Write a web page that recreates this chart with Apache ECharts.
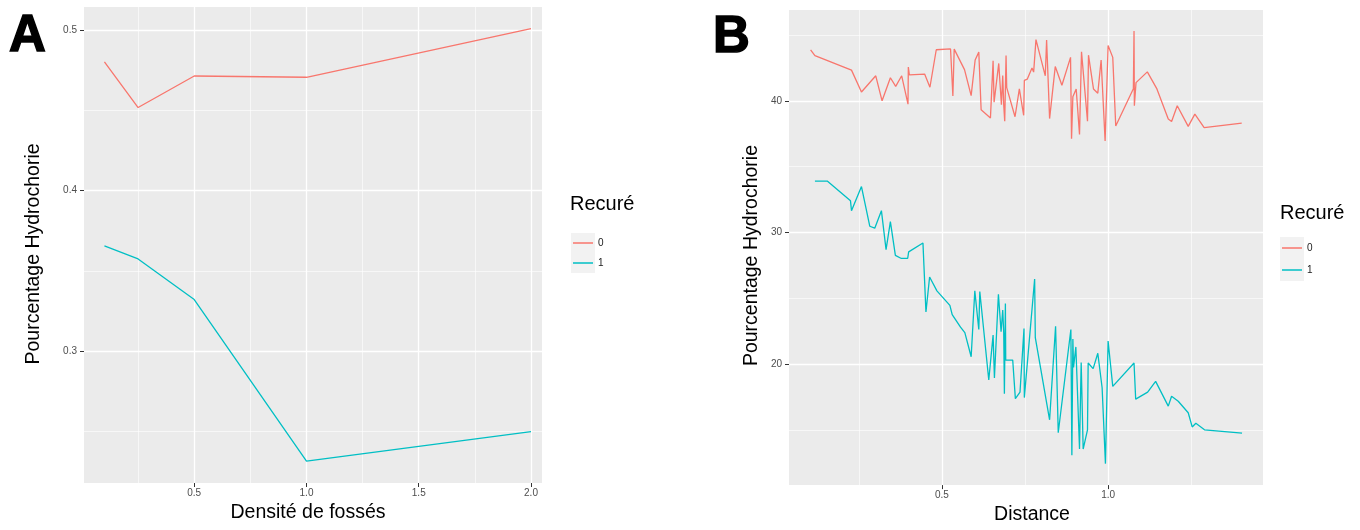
<!DOCTYPE html>
<html>
<head>
<meta charset="utf-8">
<script src="https://cdn.jsdelivr.net/npm/echarts@6/dist/echarts.min.js"></script>
<style>
  html, body { margin: 0; padding: 0; background: #fff; }
  #chart { width: 1360px; height: 530px; }
</style>
</head>
<body>
<div id="chart"></div>
<script>
// Panel A: hydrochory share against ditch density, by dredging status
const densiteFosses = [0.1, 0.25, 0.5, 1.0, 2.0];
const hydroA_recure0 = [0.4805, 0.452, 0.4717, 0.4709, 0.5013];
const hydroA_recure1 = [0.3655, 0.3574, 0.332, 0.2311, 0.2495];

// Panel B: hydrochory percentage against distance, by dredging status
const distance_recure0 = [
  0.105, 0.118, 0.228, 0.258, 0.301, 0.320, 0.345, 0.361, 0.379, 0.398,
  0.399, 0.402, 0.448, 0.464, 0.483, 0.526, 0.533, 0.537, 0.568, 0.588,
  0.600, 0.611, 0.618, 0.646, 0.654, 0.657, 0.671, 0.679, 0.683, 0.686,
  0.689, 0.693, 0.695, 0.720, 0.733, 0.743, 0.746, 0.748, 0.757, 0.771,
  0.776, 0.783, 0.811, 0.815, 0.824, 0.841, 0.861, 0.887, 0.890, 0.894,
  0.904, 0.914, 0.920, 0.938, 0.941, 0.956, 0.969, 0.979, 0.991, 1.000,
  1.014, 1.023, 1.076, 1.078, 1.079, 1.084, 1.118, 1.146, 1.181, 1.191,
  1.208, 1.241, 1.261, 1.289, 1.402
];
const hydroB_recure0 = [
  43.87, 43.43, 42.33, 40.67, 41.90, 40.00, 41.75, 41.10, 41.90, 39.74,
  42.56, 41.97, 42.03, 41.03, 43.88, 43.94, 40.37, 43.93, 42.37, 40.39,
  43.10, 43.70, 39.32, 38.70, 43.04, 39.90, 42.84, 39.70, 41.93, 39.68,
  38.45, 43.45, 41.00, 38.79, 40.90, 39.35, 38.90, 41.55, 41.65, 42.50,
  42.18, 44.65, 41.90, 44.62, 38.65, 42.60, 41.18, 43.30, 37.12, 40.30,
  40.90, 37.45, 43.72, 38.45, 43.47, 40.90, 40.58, 43.10, 36.95, 44.20,
  43.30, 38.08, 40.92, 45.30, 39.62, 41.38, 42.20, 40.95, 38.62, 38.43,
  39.62, 38.06, 38.99, 37.96, 38.31
];
const distance_recure1 = [
  0.118, 0.155, 0.225, 0.228, 0.258, 0.283, 0.298, 0.318, 0.332, 0.345,
  0.360, 0.378, 0.397, 0.400, 0.443, 0.452, 0.463, 0.485, 0.524, 0.531,
  0.536, 0.556, 0.569, 0.588, 0.599, 0.611, 0.614, 0.641, 0.654, 0.658,
  0.670, 0.678, 0.683, 0.686, 0.688, 0.691, 0.692, 0.713, 0.721, 0.735,
  0.747, 0.748, 0.779, 0.781, 0.824, 0.842, 0.850, 0.888, 0.891, 0.894,
  0.896, 0.903, 0.914, 0.919, 0.925, 0.938, 0.940, 0.955, 0.969, 0.982,
  0.992, 1.000, 1.014, 1.078, 1.083, 1.119, 1.143, 1.181, 1.191, 1.211,
  1.241, 1.253, 1.264, 1.290, 1.403
];
const hydroB_recure1 = [
  33.90, 33.90, 32.40, 31.65, 33.48, 30.47, 30.32, 31.65, 28.69, 30.82,
  28.26, 28.02, 28.02, 28.52, 29.20, 23.95, 26.61, 25.56, 24.46, 23.76,
  23.81, 22.80, 22.38, 20.55, 25.56, 22.62, 25.51, 18.79, 22.20, 18.94,
  25.30, 22.45, 24.10, 22.38, 17.74, 24.60, 20.30, 20.30, 17.37, 17.87,
  22.70, 17.45, 26.46, 22.00, 15.76, 22.87, 14.78, 22.62, 13.06, 21.90,
  19.74, 21.30, 13.54, 20.11, 13.54, 14.99, 20.08, 19.65, 20.82, 18.20,
  12.43, 21.75, 18.30, 20.08, 17.33, 17.86, 18.68, 16.80, 17.55, 17.17,
  16.30, 15.22, 15.50, 15.00, 14.75
];

// Tick positions (major) and in-between grid lines (minor)
const ticksA_x = [0.5, 1.0, 1.5, 2.0];
const minorA_x = [0.25, 0.75, 1.25, 1.75];
const ticksA_y = [0.3, 0.4, 0.5];
const minorA_y = [0.25, 0.35, 0.45];
const ticksB_x = [0.5, 1.0];
const minorB_x = [0.25, 0.75, 1.25];
const ticksB_y = [20, 30, 40];
const minorB_y = [15, 25, 35, 45];

const legendLabels = ['0', '1'];
const colors = ['#F8766D', '#00BFC4'];

const zip = (xs, ys) => xs.map((x, i) => [x, ys[i]]);
const FONT = '"Liberation Sans", Arial, Helvetica, sans-serif';

function gridLines(xMajor, xMinor, yMajor, yMinor) {
  const major = { color: '#ffffff', width: 1.3, type: 'solid' };
  const minor = { color: '#ffffff', width: 0.6, type: 'solid' };
  return [].concat(
    xMinor.map(v => ({ xAxis: v, lineStyle: minor })),
    yMinor.map(v => ({ yAxis: v, lineStyle: minor })),
    xMajor.map(v => ({ xAxis: v, lineStyle: major })),
    yMajor.map(v => ({ yAxis: v, lineStyle: major }))
  );
}

function gridSeries(idx, xMajor, xMinor, yMajor, yMinor) {
  return {
    type: 'line', name: 'grille' + idx, xAxisIndex: idx, yAxisIndex: idx,
    data: [], silent: true, z: 1,
    markLine: {
      silent: true, symbol: ['none', 'none'], animation: false,
      label: { show: false },
      lineStyle: { type: 'solid', color: '#fff' },
      emphasis: { disabled: true },
      data: gridLines(xMajor, xMinor, yMajor, yMinor)
    }
  };
}

function valueAxis(idx, min, max, ticks, fmt, labelMargin, extra) {
  return Object.assign({
    type: 'value', gridIndex: idx, min: min, max: max,
    axisLine: { show: false },
    splitLine: { show: false },
    axisTick: { show: true, length: 4, customValues: ticks, lineStyle: { color: '#333333', width: 1 } },
    axisLabel: { customValues: ticks, formatter: fmt, fontSize: 10, color: '#4d4d4d', margin: labelMargin, fontFamily: FONT },
    nameLocation: 'middle',
    nameTextStyle: { fontSize: 19.5, color: '#000', fontFamily: FONT }
  }, extra);
}

function dataSeries(name, idx, xs, ys, color) {
  return {
    type: 'line', name: name, xAxisIndex: idx, yAxisIndex: idx,
    data: zip(xs, ys), showSymbol: false, symbol: 'none', z: 10,
    color: color,
    lineStyle: { color: color, width: 1.3 },
    emphasis: { disabled: true }
  };
}

const chart = echarts.init(document.getElementById('chart'), null, { renderer: 'canvas' });

const letterStyle = { fontSize: 51, fontWeight: 'bold', color: '#000', fontFamily: FONT, textBorderColor: '#000', textBorderWidth: 1.5 };
const legendTitleStyle = { fontSize: 20, fontWeight: 'normal', color: '#000', fontFamily: FONT };

const option = {
  animation: false,
  backgroundColor: '#ffffff',
  textStyle: { fontFamily: FONT },
  title: [
    { text: 'A', left: 9, top: 11, padding: 0, textStyle: letterStyle },
    { text: 'B', left: 713, top: 12, padding: 0, textStyle: letterStyle },
    { text: 'Recuré', left: 570, top: 194, padding: 0, textStyle: legendTitleStyle },
    { text: 'Recuré', left: 1280, top: 203, padding: 0, textStyle: legendTitleStyle }
  ],
  legend: [
    { data: legendLabels, orient: 'vertical', left: 573, top: 233, padding: 0,
      icon: 'rect', itemWidth: 20, itemHeight: 1.5, itemGap: 0, selectedMode: false,
      textStyle: { fontSize: 10, color: '#1a1a1a', lineHeight: 20, fontFamily: FONT } },
    { data: legendLabels, orient: 'vertical', left: 1282, top: 237, padding: 0,
      icon: 'rect', itemWidth: 20, itemHeight: 1.5, itemGap: 0, selectedMode: false,
      textStyle: { fontSize: 10, color: '#1a1a1a', lineHeight: 22, fontFamily: FONT } }
  ],
  graphic: [
    { type: 'rect', left: 571, top: 233, shape: { width: 24, height: 40 }, style: { fill: '#f2f2f2' }, z: 0, silent: true },
    { type: 'rect', left: 1280, top: 237, shape: { width: 24, height: 44 }, style: { fill: '#f2f2f2' }, z: 0, silent: true }
  ],
  grid: [
    { left: 84, top: 7, width: 458, height: 476, show: true, backgroundColor: '#ebebeb', borderWidth: 0 },
    { left: 789, top: 10, width: 474, height: 479, show: true, backgroundColor: '#ebebeb', borderWidth: 0 }
  ],
  xAxis: [
    valueAxis(0, 0.009, 2.049, ticksA_x, v => v.toFixed(1), 5,
      { name: 'Densité de fossés', nameGap: 17, nameTextStyle: { fontSize: 19.5, color: '#000', fontFamily: FONT, padding: [0, 10, 0, 0] } }),
    valueAxis(1, 0.04, 1.466, ticksB_x, v => v.toFixed(1), 5,
      { name: 'Distance', nameGap: 16, nameTextStyle: { fontSize: 19.5, color: '#000', fontFamily: FONT, padding: [0, 0, 0, 12] } })
  ],
  yAxis: [
    valueAxis(0, 0.2174, 0.5148, ticksA_y, v => v.toFixed(1), 7,
      { name: 'Pourcentage Hydrochorie', nameGap: 40, nameRotate: 90,
        nameTextStyle: { fontSize: 19.5, color: '#000', fontFamily: FONT, padding: [0, 18, 0, 0] } }),
    valueAxis(1, 10.8, 46.9, ticksB_y, v => String(v), 7,
      { name: 'Pourcentage Hydrochorie', nameGap: 27, nameRotate: 90,
        nameTextStyle: { fontSize: 19.5, color: '#000', fontFamily: FONT, padding: [0, 16, 0, 0] } })
  ],
  series: [
    gridSeries(0, ticksA_x, minorA_x, ticksA_y, minorA_y),
    gridSeries(1, ticksB_x, minorB_x, ticksB_y, minorB_y),
    dataSeries(legendLabels[0], 0, densiteFosses, hydroA_recure0, colors[0]),
    dataSeries(legendLabels[1], 0, densiteFosses, hydroA_recure1, colors[1]),
    dataSeries(legendLabels[0], 1, distance_recure0, hydroB_recure0, colors[0]),
    dataSeries(legendLabels[1], 1, distance_recure1, hydroB_recure1, colors[1])
  ]
};

chart.setOption(option);
</script>
</body>
</html>
